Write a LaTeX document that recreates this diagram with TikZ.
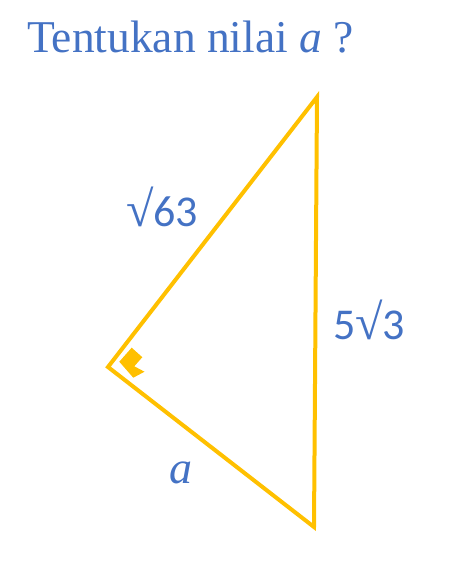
\documentclass[tikz,border=0pt]{standalone}
\usepackage{fontspec}
\setmainfont{Liberation Serif}
\newfontfamily\numfont{Carlito}
\newfontfamily\surdfont{Liberation Serif}
\newcommand{\mysurd}{{\surdfont\fontsize{50}{50}\selectfont √}}
\definecolor{tblue}{HTML}{4472C4}
\definecolor{tyellow}{HTML}{FFC000}
\begin{document}
\begin{tikzpicture}[x=1pt,y=-1pt,
  side/.style={draw=tyellow,line width=4pt,line join=miter},
  lbl/.style={text=tblue,inner sep=0pt},
  anglemark/.style={fill=tyellow}]
\useasboundingbox (0,0) rectangle (473,571);
\coordinate (T) at (317,97);
\coordinate (L) at (108,367);
\coordinate (B) at (314,527);
\draw[side] (T) -- (L) -- (B) -- cycle;
\coordinate (m0) at (119.3,361.7);
\coordinate (m1) at (131.7,347.7);
\coordinate (m2) at (142.3,357.2);
\coordinate (m3) at (134.3,366.3);
\coordinate (m4) at (144.5,371.7);
\coordinate (m5) at (133.3,377.7);
\fill[anglemark] (m0) -- (m1) -- (m2) -- (m3) -- (m4) -- (m5) -- cycle;
\node[lbl,anchor=base west,font=\fontsize{45.5}{50}\selectfont] (title) at (27,52) {Tentukan nilai \textit{a} ?};
\node[lbl,anchor=base west,font=\numfont\fontsize{44}{48}\selectfont] (s1) at (126,226) {\mysurd63};
\node[lbl,anchor=base west,font=\numfont\fontsize{44}{48}\selectfont] (s2) at (333,339) {5\mysurd3};
\node[lbl,anchor=base,font=\fontsize{46}{50}\selectfont] (s3) at (181,483) {\textit{a}};
\end{tikzpicture}
\end{document}
